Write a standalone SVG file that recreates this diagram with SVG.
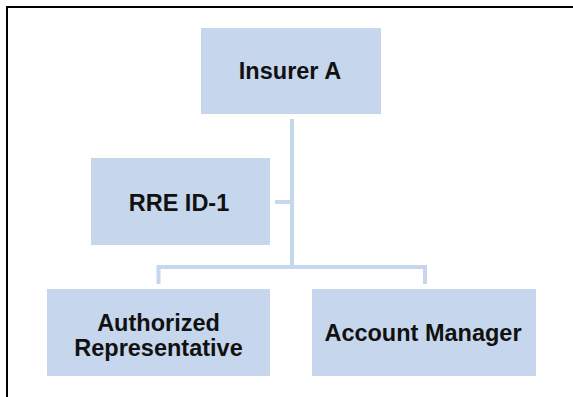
<svg xmlns="http://www.w3.org/2000/svg" width="573" height="397" viewBox="0 0 573 397">
<style>
.box{fill:#C6D6EC}
.lbl{font-family:"Liberation Sans",Arial,sans-serif;font-weight:bold;font-size:23.5px;fill:#111;text-anchor:middle}
.con{stroke:#C6D6EC;stroke-width:4;fill:none}
</style>
<rect width="573" height="397" fill="#fff"/>
<path d="M7,397 V7 H573" fill="none" stroke="#000" stroke-width="2"/>
<g id="connectors">
<path class="con" d="M292,119 V267"/>
<path class="con" d="M158.5,284 V267 H425 V284"/>
<path class="con" d="M275,202 H290"/>
</g>
<g id="insurer-a">
<rect class="box" x="201" y="28" width="180" height="86"/>
<text class="lbl" x="290" y="79">Insurer A</text>
</g>
<g id="rre-id-1">
<rect class="box" x="91" y="158" width="179" height="87"/>
<text class="lbl" x="179" y="211">RRE ID-1</text>
</g>
<g id="authorized-representative">
<rect class="box" x="47" y="289" width="223" height="87"/>
<text class="lbl" x="158.5" y="331">Authorized</text>
<text class="lbl" x="158.5" y="356">Representative</text>
</g>
<g id="account-manager">
<rect class="box" x="312" y="289" width="224" height="87"/>
<text class="lbl" x="423" y="341">Account Manager</text>
</g>
</svg>
